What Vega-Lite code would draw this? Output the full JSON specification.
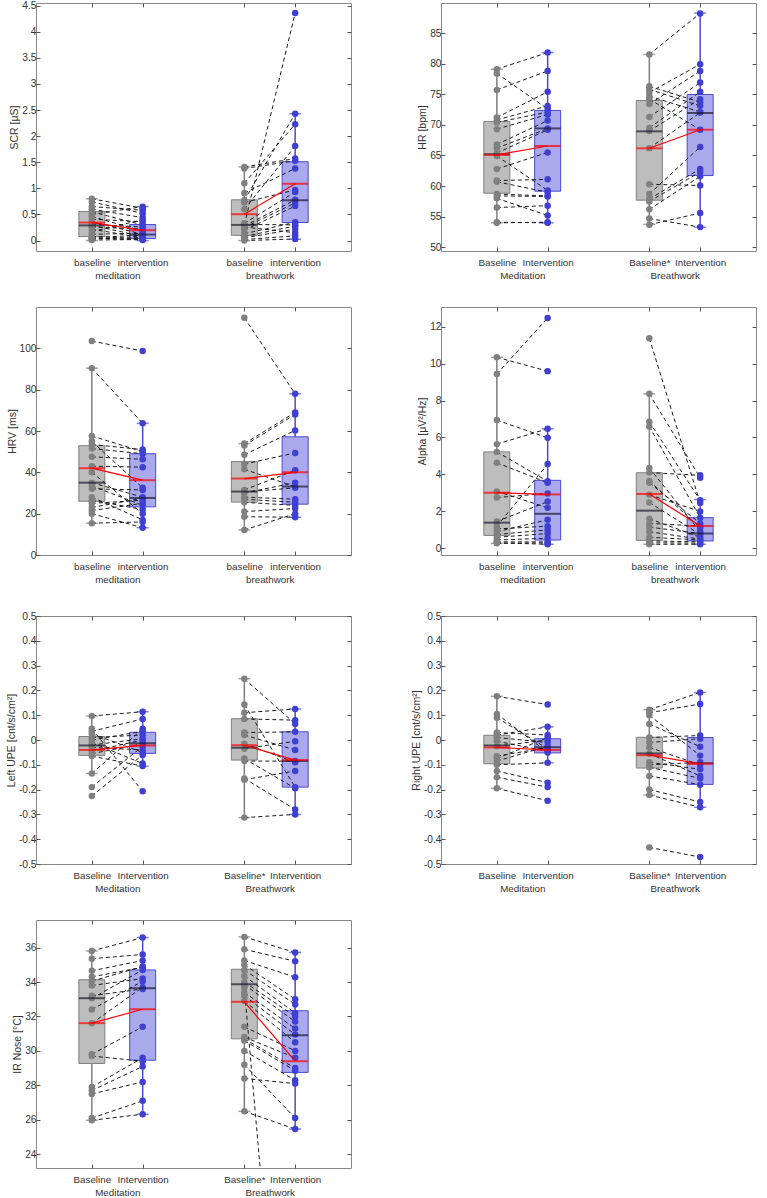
{
  "$schema": "https://vega.github.io/schema/vega-lite/v6.json",
  "background": "white",
  "padding": {"left": 5, "top": 0, "right": 0, "bottom": 0},
  "columns": 2,
  "spacing": {"row": 25, "column": 58},
  "config": {
    "font": "Liberation Sans",
    "view": {"stroke": "#888888", "strokeWidth": 1},
    "axis": {"labelFont": "Liberation Sans", "titleFont": "Liberation Sans", "labelFontSize": 10.2, "titleFontSize": 10.5, "titleFontWeight": "normal", "labelColor": "#333333", "titleColor": "#333333", "domain": false, "grid": false, "tickColor": "#555555", "tickSize": -4, "labelPadding": 4, "titlePadding": 2},
    "axisX": {"labelOverlap": false, "labelFlush": false, "labelLineHeight": 13.5, "labelAngle": 0, "labelPadding": 10, "labelFontSize": 9.8},
    "axisY": {"labelOverlap": false, "tickCount": 30}
  },
  "datasets": {
    "scr_box": [
      {"pos": 1, "cond": "baseline", "grp": "meditation", "lo": 0, "q1": 0.077, "med": 0.29, "mean": 0.345, "q3": 0.556, "hi": 0.8},
      {"pos": 2, "cond": "intervention", "grp": "meditation", "lo": 0, "q1": 0.038, "med": 0.115, "mean": 0.198, "q3": 0.307, "hi": 0.652},
      {"pos": 4, "cond": "baseline", "grp": "breathwork", "lo": 0, "q1": 0.1, "med": 0.3, "mean": 0.505, "q3": 0.78, "hi": 1.41},
      {"pos": 5, "cond": "intervention", "grp": "breathwork", "lo": 0.026, "q1": 0.345, "med": 0.774, "mean": 1.087, "q3": 1.51, "hi": 2.43}
    ],
    "scr_pairs": [
      {"xb": 1, "xi": 2, "b": 0.8, "i": 0.62}, {"xb": 1, "xi": 2, "b": 0.74, "i": 0.52}, {"xb": 1, "xi": 2, "b": 0.65, "i": 0.58}, {"xb": 1, "xi": 2, "b": 0.6, "i": 0.44},
      {"xb": 1, "xi": 2, "b": 0.55, "i": 0.3}, {"xb": 1, "xi": 2, "b": 0.5, "i": 0.65}, {"xb": 1, "xi": 2, "b": 0.46, "i": 0.18}, {"xb": 1, "xi": 2, "b": 0.41, "i": 0.36},
      {"xb": 1, "xi": 2, "b": 0.36, "i": 0.12}, {"xb": 1, "xi": 2, "b": 0.31, "i": 0.26}, {"xb": 1, "xi": 2, "b": 0.29, "i": 0.08}, {"xb": 1, "xi": 2, "b": 0.26, "i": 0.22},
      {"xb": 1, "xi": 2, "b": 0.22, "i": 0.05}, {"xb": 1, "xi": 2, "b": 0.17, "i": 0.4}, {"xb": 1, "xi": 2, "b": 0.12, "i": 0.14}, {"xb": 1, "xi": 2, "b": 0.08, "i": 0.03},
      {"xb": 1, "xi": 2, "b": 0.06, "i": 0.1}, {"xb": 1, "xi": 2, "b": 0.05, "i": 0.01}, {"xb": 1, "xi": 2, "b": 0.03, "i": 0.06}, {"xb": 1, "xi": 2, "b": 0.01, "i": 0.02},
      {"xb": 4, "xi": 5, "b": 0.3, "i": 4.36}, {"xb": 4, "xi": 5, "b": 0.77, "i": 2.43}, {"xb": 4, "xi": 5, "b": 1.1, "i": 2.23}, {"xb": 4, "xi": 5, "b": 0.6, "i": 1.81},
      {"xb": 4, "xi": 5, "b": 1.41, "i": 1.57}, {"xb": 4, "xi": 5, "b": 1.38, "i": 1.53}, {"xb": 4, "xi": 5, "b": 0.91, "i": 1.38}, {"xb": 4, "xi": 5, "b": 0.73, "i": 0.97},
      {"xb": 4, "xi": 5, "b": 0.33, "i": 0.93}, {"xb": 4, "xi": 5, "b": 0.28, "i": 0.78}, {"xb": 4, "xi": 5, "b": 0.25, "i": 0.72}, {"xb": 4, "xi": 5, "b": 0.2, "i": 0.66},
      {"xb": 4, "xi": 5, "b": 0.13, "i": 0.35}, {"xb": 4, "xi": 5, "b": 0.31, "i": 0.3}, {"xb": 4, "xi": 5, "b": 0.08, "i": 0.28}, {"xb": 4, "xi": 5, "b": 0.05, "i": 0.22},
      {"xb": 4, "xi": 5, "b": 0.26, "i": 0.15}, {"xb": 4, "xi": 5, "b": 0.02, "i": 0.09}, {"xb": 4, "xi": 5, "b": 0.0, "i": 0.03}
    ],
    "hr_box": [
      {"pos": 1, "cond": "baseline", "grp": "meditation", "lo": 54.0, "q1": 58.84, "med": 65.2, "mean": 65.1, "q3": 70.56, "hi": 79.08},
      {"pos": 2, "cond": "intervention", "grp": "meditation", "lo": 54.0, "q1": 59.17, "med": 69.42, "mean": 66.55, "q3": 72.35, "hi": 81.8},
      {"pos": 4, "cond": "baseline", "grp": "breathwork", "lo": 53.75, "q1": 57.7, "med": 68.94, "mean": 66.17, "q3": 73.98, "hi": 81.5},
      {"pos": 5, "cond": "intervention", "grp": "breathwork", "lo": 53.26, "q1": 61.72, "med": 71.92, "mean": 69.2, "q3": 74.96, "hi": 88.25}
    ],
    "hr_pairs": [
      {"xb": 1, "xi": 2, "b": 79.1, "i": 81.8}, {"xb": 1, "xi": 2, "b": 78.4, "i": 72.6}, {"xb": 1, "xi": 2, "b": 75.7, "i": 78.8}, {"xb": 1, "xi": 2, "b": 71.2, "i": 75.4},
      {"xb": 1, "xi": 2, "b": 70.8, "i": 73.1}, {"xb": 1, "xi": 2, "b": 70.4, "i": 72.1}, {"xb": 1, "xi": 2, "b": 69.3, "i": 71.7}, {"xb": 1, "xi": 2, "b": 66.8, "i": 70.7},
      {"xb": 1, "xi": 2, "b": 66.2, "i": 69.4}, {"xb": 1, "xi": 2, "b": 65.4, "i": 69.2}, {"xb": 1, "xi": 2, "b": 64.9, "i": 59.3}, {"xb": 1, "xi": 2, "b": 62.8, "i": 65.5},
      {"xb": 1, "xi": 2, "b": 60.9, "i": 61.1}, {"xb": 1, "xi": 2, "b": 60.7, "i": 59.0}, {"xb": 1, "xi": 2, "b": 58.7, "i": 58.4}, {"xb": 1, "xi": 2, "b": 58.4, "i": 58.3},
      {"xb": 1, "xi": 2, "b": 58.0, "i": 55.2}, {"xb": 1, "xi": 2, "b": 56.5, "i": 56.8}, {"xb": 1, "xi": 2, "b": 54.1, "i": 54.0}, {"xb": 1, "xi": 2, "b": 54.0, "i": 54.1},
      {"xb": 4, "xi": 5, "b": 81.5, "i": 88.2}, {"xb": 4, "xi": 5, "b": 76.3, "i": 73.7}, {"xb": 4, "xi": 5, "b": 75.8, "i": 73.1}, {"xb": 4, "xi": 5, "b": 75.3, "i": 79.9},
      {"xb": 4, "xi": 5, "b": 74.7, "i": 72.1}, {"xb": 4, "xi": 5, "b": 74.2, "i": 69.2}, {"xb": 4, "xi": 5, "b": 73.4, "i": 78.8}, {"xb": 4, "xi": 5, "b": 71.3, "i": 76.9},
      {"xb": 4, "xi": 5, "b": 69.5, "i": 75.4}, {"xb": 4, "xi": 5, "b": 69.0, "i": 74.2}, {"xb": 4, "xi": 5, "b": 66.2, "i": 72.0}, {"xb": 4, "xi": 5, "b": 60.3, "i": 60.1},
      {"xb": 4, "xi": 5, "b": 58.7, "i": 66.4}, {"xb": 4, "xi": 5, "b": 57.9, "i": 62.8}, {"xb": 4, "xi": 5, "b": 57.5, "i": 62.3}, {"xb": 4, "xi": 5, "b": 56.2, "i": 61.6},
      {"xb": 4, "xi": 5, "b": 54.7, "i": 53.3}, {"xb": 4, "xi": 5, "b": 53.7, "i": 55.6}
    ],
    "hrv_box": [
      {"pos": 1, "cond": "baseline", "grp": "meditation", "lo": 15.4, "q1": 26.0, "med": 35.0, "mean": 42.0, "q3": 52.9, "hi": 90.4},
      {"pos": 2, "cond": "intervention", "grp": "meditation", "lo": 13.2, "q1": 23.3, "med": 27.6, "mean": 36.2, "q3": 49.0, "hi": 63.7},
      {"pos": 4, "cond": "baseline", "grp": "breathwork", "lo": 12.1, "q1": 25.6, "med": 30.7, "mean": 37.0, "q3": 45.2, "hi": 53.9},
      {"pos": 5, "cond": "intervention", "grp": "breathwork", "lo": 18.3, "q1": 24.6, "med": 33.1, "mean": 40.0, "q3": 57.2, "hi": 78.0}
    ],
    "hrv_pairs": [
      {"xb": 1, "xi": 2, "b": 103.5, "i": 98.7}, {"xb": 1, "xi": 2, "b": 90.4, "i": 63.7}, {"xb": 1, "xi": 2, "b": 57.6, "i": 50}, {"xb": 1, "xi": 2, "b": 55, "i": 32.5},
      {"xb": 1, "xi": 2, "b": 53.5, "i": 51}, {"xb": 1, "xi": 2, "b": 51.5, "i": 49}, {"xb": 1, "xi": 2, "b": 47.5, "i": 46.3}, {"xb": 1, "xi": 2, "b": 43, "i": 42.5},
      {"xb": 1, "xi": 2, "b": 40, "i": 20}, {"xb": 1, "xi": 2, "b": 35, "i": 28}, {"xb": 1, "xi": 2, "b": 33.5, "i": 24}, {"xb": 1, "xi": 2, "b": 32, "i": 31.5},
      {"xb": 1, "xi": 2, "b": 28, "i": 17}, {"xb": 1, "xi": 2, "b": 26.5, "i": 22}, {"xb": 1, "xi": 2, "b": 25, "i": 26.5}, {"xb": 1, "xi": 2, "b": 23, "i": 27.5},
      {"xb": 1, "xi": 2, "b": 21.5, "i": 25}, {"xb": 1, "xi": 2, "b": 20, "i": 13.2}, {"xb": 1, "xi": 2, "b": 15.4, "i": 16},
      {"xb": 4, "xi": 5, "b": 114.8, "i": 78}, {"xb": 4, "xi": 5, "b": 53.9, "i": 69}, {"xb": 4, "xi": 5, "b": 53, "i": 68}, {"xb": 4, "xi": 5, "b": 48.5, "i": 60.3},
      {"xb": 4, "xi": 5, "b": 44, "i": 49.4}, {"xb": 4, "xi": 5, "b": 41.5, "i": 33}, {"xb": 4, "xi": 5, "b": 31.5, "i": 41}, {"xb": 4, "xi": 5, "b": 30, "i": 35},
      {"xb": 4, "xi": 5, "b": 30.5, "i": 32.5}, {"xb": 4, "xi": 5, "b": 28, "i": 27}, {"xb": 4, "xi": 5, "b": 27, "i": 25.5}, {"xb": 4, "xi": 5, "b": 25.5, "i": 24},
      {"xb": 4, "xi": 5, "b": 21, "i": 22.5}, {"xb": 4, "xi": 5, "b": 18.5, "i": 18.3}, {"xb": 4, "xi": 5, "b": 12.1, "i": 20}
    ],
    "alpha_box": [
      {"pos": 1, "cond": "baseline", "grp": "meditation", "lo": 0.27, "q1": 0.7, "med": 1.39, "mean": 3.01, "q3": 5.22, "hi": 10.34},
      {"pos": 2, "cond": "intervention", "grp": "meditation", "lo": 0.22, "q1": 0.45, "med": 1.87, "mean": 2.92, "q3": 3.68, "hi": 6.47},
      {"pos": 4, "cond": "baseline", "grp": "breathwork", "lo": 0.22, "q1": 0.43, "med": 2.04, "mean": 2.94, "q3": 4.09, "hi": 8.36},
      {"pos": 5, "cond": "intervention", "grp": "breathwork", "lo": 0.22, "q1": 0.4, "med": 0.81, "mean": 1.21, "q3": 1.66, "hi": 2.65}
    ],
    "alpha_pairs": [
      {"xb": 1, "xi": 2, "b": 9.43, "i": 12.47}, {"xb": 1, "xi": 2, "b": 10.34, "i": 9.59}, {"xb": 1, "xi": 2, "b": 6.94, "i": 5.98}, {"xb": 1, "xi": 2, "b": 5.64, "i": 6.47},
      {"xb": 1, "xi": 2, "b": 5.22, "i": 3.63}, {"xb": 1, "xi": 2, "b": 4.63, "i": 3.55}, {"xb": 1, "xi": 2, "b": 3.08, "i": 2.2}, {"xb": 1, "xi": 2, "b": 2.75, "i": 2.97},
      {"xb": 1, "xi": 2, "b": 1.45, "i": 2.53}, {"xb": 1, "xi": 2, "b": 1.2, "i": 4.56}, {"xb": 1, "xi": 2, "b": 1.05, "i": 1.2}, {"xb": 1, "xi": 2, "b": 0.9, "i": 1.55},
      {"xb": 1, "xi": 2, "b": 0.75, "i": 1.0}, {"xb": 1, "xi": 2, "b": 0.6, "i": 0.8}, {"xb": 1, "xi": 2, "b": 0.45, "i": 0.55}, {"xb": 1, "xi": 2, "b": 0.35, "i": 0.35},
      {"xb": 1, "xi": 2, "b": 0.3, "i": 0.22}, {"xb": 1, "xi": 2, "b": 0.27, "i": 0.3},
      {"xb": 4, "xi": 5, "b": 11.37, "i": 2.45}, {"xb": 4, "xi": 5, "b": 8.36, "i": 3.82}, {"xb": 4, "xi": 5, "b": 6.85, "i": 2.6}, {"xb": 4, "xi": 5, "b": 6.6, "i": 1.65},
      {"xb": 4, "xi": 5, "b": 4.35, "i": 0.9}, {"xb": 4, "xi": 5, "b": 4.1, "i": 3.95}, {"xb": 4, "xi": 5, "b": 3.65, "i": 1.1}, {"xb": 4, "xi": 5, "b": 3.55, "i": 1.35},
      {"xb": 4, "xi": 5, "b": 2.9, "i": 2.0}, {"xb": 4, "xi": 5, "b": 2.48, "i": 0.75}, {"xb": 4, "xi": 5, "b": 1.6, "i": 0.6}, {"xb": 4, "xi": 5, "b": 1.35, "i": 1.2},
      {"xb": 4, "xi": 5, "b": 1.15, "i": 0.8}, {"xb": 4, "xi": 5, "b": 0.9, "i": 0.5}, {"xb": 4, "xi": 5, "b": 0.6, "i": 0.45}, {"xb": 4, "xi": 5, "b": 0.4, "i": 0.35},
      {"xb": 4, "xi": 5, "b": 0.3, "i": 0.28}, {"xb": 4, "xi": 5, "b": 0.22, "i": 0.22}
    ],
    "lupe_box": [
      {"pos": 1, "cond": "baseline", "grp": "meditation", "lo": -0.135, "q1": -0.062, "med": -0.022, "mean": -0.04, "q3": 0.014, "hi": 0.097},
      {"pos": 2, "cond": "intervention", "grp": "meditation", "lo": -0.105, "q1": -0.054, "med": -0.013, "mean": -0.022, "q3": 0.031, "hi": 0.114},
      {"pos": 4, "cond": "baseline", "grp": "breathwork", "lo": -0.313, "q1": -0.081, "med": -0.031, "mean": -0.021, "q3": 0.086, "hi": 0.247},
      {"pos": 5, "cond": "intervention", "grp": "breathwork", "lo": -0.3, "q1": -0.19, "med": -0.085, "mean": -0.081, "q3": 0.033, "hi": 0.125}
    ],
    "lupe_pairs": [
      {"xb": 1, "xi": 2, "b": 0.097, "i": 0.114}, {"xb": 1, "xi": 2, "b": 0.045, "i": -0.207}, {"xb": 1, "xi": 2, "b": 0.035, "i": 0.085}, {"xb": 1, "xi": 2, "b": 0.025, "i": -0.05},
      {"xb": 1, "xi": 2, "b": 0.01, "i": 0.02}, {"xb": 1, "xi": 2, "b": 0.0, "i": 0.035}, {"xb": 1, "xi": 2, "b": -0.01, "i": -0.095}, {"xb": 1, "xi": 2, "b": -0.02, "i": 0.005},
      {"xb": 1, "xi": 2, "b": -0.03, "i": -0.04}, {"xb": 1, "xi": 2, "b": -0.045, "i": 0.0}, {"xb": 1, "xi": 2, "b": -0.055, "i": -0.015}, {"xb": 1, "xi": 2, "b": -0.065, "i": -0.105},
      {"xb": 1, "xi": 2, "b": -0.135, "i": 0.045}, {"xb": 1, "xi": 2, "b": -0.19, "i": -0.025}, {"xb": 1, "xi": 2, "b": -0.226, "i": -0.06},
      {"xb": 4, "xi": 5, "b": 0.247, "i": 0.065}, {"xb": 4, "xi": 5, "b": 0.143, "i": -0.19}, {"xb": 4, "xi": 5, "b": 0.11, "i": 0.125}, {"xb": 4, "xi": 5, "b": 0.085, "i": 0.08},
      {"xb": 4, "xi": 5, "b": 0.03, "i": 0.033}, {"xb": 4, "xi": 5, "b": 0.02, "i": -0.04}, {"xb": 4, "xi": 5, "b": -0.015, "i": -0.09}, {"xb": 4, "xi": 5, "b": -0.035, "i": -0.005},
      {"xb": 4, "xi": 5, "b": -0.075, "i": -0.195}, {"xb": 4, "xi": 5, "b": -0.085, "i": -0.085}, {"xb": 4, "xi": 5, "b": -0.155, "i": -0.28}, {"xb": 4, "xi": 5, "b": -0.16, "i": -0.125},
      {"xb": 4, "xi": 5, "b": -0.313, "i": -0.3}
    ],
    "rupe_box": [
      {"pos": 1, "cond": "baseline", "grp": "meditation", "lo": -0.195, "q1": -0.096, "med": -0.022, "mean": -0.03, "q3": 0.019, "hi": 0.176},
      {"pos": 2, "cond": "intervention", "grp": "meditation", "lo": -0.092, "q1": -0.052, "med": -0.029, "mean": -0.04, "q3": 0.005, "hi": 0.053},
      {"pos": 4, "cond": "baseline", "grp": "breathwork", "lo": -0.222, "q1": -0.113, "med": -0.054, "mean": -0.061, "q3": 0.011, "hi": 0.122},
      {"pos": 5, "cond": "intervention", "grp": "breathwork", "lo": -0.271, "q1": -0.179, "med": -0.094, "mean": -0.096, "q3": 0.01, "hi": 0.192}
    ],
    "rupe_pairs": [
      {"xb": 1, "xi": 2, "b": 0.176, "i": 0.143}, {"xb": 1, "xi": 2, "b": 0.105, "i": -0.05}, {"xb": 1, "xi": 2, "b": 0.09, "i": -0.035}, {"xb": 1, "xi": 2, "b": 0.03, "i": 0.02},
      {"xb": 1, "xi": 2, "b": 0.02, "i": 0.053}, {"xb": 1, "xi": 2, "b": 0.01, "i": -0.01}, {"xb": 1, "xi": 2, "b": -0.005, "i": -0.045}, {"xb": 1, "xi": 2, "b": -0.025, "i": 0.0},
      {"xb": 1, "xi": 2, "b": -0.065, "i": -0.03}, {"xb": 1, "xi": 2, "b": -0.075, "i": 0.01}, {"xb": 1, "xi": 2, "b": -0.085, "i": -0.025}, {"xb": 1, "xi": 2, "b": -0.1, "i": -0.092},
      {"xb": 1, "xi": 2, "b": -0.125, "i": -0.172}, {"xb": 1, "xi": 2, "b": -0.15, "i": -0.19}, {"xb": 1, "xi": 2, "b": -0.195, "i": -0.245},
      {"xb": 4, "xi": 5, "b": 0.122, "i": 0.192}, {"xb": 4, "xi": 5, "b": 0.11, "i": 0.145}, {"xb": 4, "xi": 5, "b": 0.1, "i": -0.063}, {"xb": 4, "xi": 5, "b": 0.065, "i": -0.027},
      {"xb": 4, "xi": 5, "b": 0.01, "i": 0.018}, {"xb": 4, "xi": 5, "b": -0.01, "i": 0.005}, {"xb": 4, "xi": 5, "b": -0.03, "i": -0.1}, {"xb": 4, "xi": 5, "b": -0.055, "i": -0.145},
      {"xb": 4, "xi": 5, "b": -0.09, "i": -0.118}, {"xb": 4, "xi": 5, "b": -0.1, "i": -0.09}, {"xb": 4, "xi": 5, "b": -0.11, "i": -0.155}, {"xb": 4, "xi": 5, "b": -0.145, "i": -0.18},
      {"xb": 4, "xi": 5, "b": -0.2, "i": -0.25}, {"xb": 4, "xi": 5, "b": -0.222, "i": -0.271}, {"xb": 4, "xi": 5, "b": -0.433, "i": -0.472}
    ],
    "ir_box": [
      {"pos": 1, "cond": "baseline", "grp": "meditation", "lo": 25.97, "q1": 29.27, "med": 33.06, "mean": 31.61, "q3": 34.13, "hi": 35.8},
      {"pos": 2, "cond": "intervention", "grp": "meditation", "lo": 26.32, "q1": 29.46, "med": 33.64, "mean": 32.42, "q3": 34.7, "hi": 36.58},
      {"pos": 4, "cond": "baseline", "grp": "breathwork", "lo": 26.49, "q1": 30.7, "med": 33.87, "mean": 32.85, "q3": 34.74, "hi": 36.62},
      {"pos": 5, "cond": "intervention", "grp": "breathwork", "lo": 25.46, "q1": 28.75, "med": 30.91, "mean": 29.4, "q3": 32.33, "hi": 35.71}
    ],
    "ir_pairs": [
      {"xb": 1, "xi": 2, "b": 35.8, "i": 36.58}, {"xb": 1, "xi": 2, "b": 35.35, "i": 35.6}, {"xb": 1, "xi": 2, "b": 34.65, "i": 35.25}, {"xb": 1, "xi": 2, "b": 34.3, "i": 34.85},
      {"xb": 1, "xi": 2, "b": 34.05, "i": 34.9}, {"xb": 1, "xi": 2, "b": 33.8, "i": 34.2}, {"xb": 1, "xi": 2, "b": 33.2, "i": 33.6}, {"xb": 1, "xi": 2, "b": 33.05, "i": 34.7},
      {"xb": 1, "xi": 2, "b": 32.4, "i": 34.05}, {"xb": 1, "xi": 2, "b": 31.6, "i": 33.7}, {"xb": 1, "xi": 2, "b": 29.8, "i": 31.4}, {"xb": 1, "xi": 2, "b": 29.7, "i": 29.4},
      {"xb": 1, "xi": 2, "b": 27.9, "i": 29.6}, {"xb": 1, "xi": 2, "b": 27.7, "i": 29.1}, {"xb": 1, "xi": 2, "b": 27.5, "i": 28.2}, {"xb": 1, "xi": 2, "b": 26.1, "i": 27.1},
      {"xb": 1, "xi": 2, "b": 25.97, "i": 26.32},
      {"xb": 4, "xi": 5, "b": 36.62, "i": 35.71}, {"xb": 4, "xi": 5, "b": 35.9, "i": 35.2}, {"xb": 4, "xi": 5, "b": 35.25, "i": 34.28}, {"xb": 4, "xi": 5, "b": 35.0, "i": 33.0},
      {"xb": 4, "xi": 5, "b": 34.7, "i": 32.7}, {"xb": 4, "xi": 5, "b": 34.35, "i": 32.2}, {"xb": 4, "xi": 5, "b": 34.0, "i": 32.0}, {"xb": 4, "xi": 5, "b": 33.85, "i": 31.7},
      {"xb": 4, "xi": 5, "b": 33.66, "i": 0}, {"xb": 4, "xi": 5, "b": 33.4, "i": 31.3}, {"xb": 4, "xi": 5, "b": 33.2, "i": 30.95}, {"xb": 4, "xi": 5, "b": 32.9, "i": 30.5},
      {"xb": 4, "xi": 5, "b": 31.4, "i": 30.0}, {"xb": 4, "xi": 5, "b": 30.8, "i": 29.6}, {"xb": 4, "xi": 5, "b": 30.7, "i": 29.0}, {"xb": 4, "xi": 5, "b": 30.6, "i": 28.85},
      {"xb": 4, "xi": 5, "b": 30.0, "i": 28.3}, {"xb": 4, "xi": 5, "b": 29.2, "i": 26.1}, {"xb": 4, "xi": 5, "b": 28.4, "i": 28.1}, {"xb": 4, "xi": 5, "b": 26.49, "i": 25.46}
    ]
  },
  "concat": [
    {
      "width": 315, "height": 248,
      "resolve": {"axis": {"x": "independent", "y": "independent"}},
      "layer": [
        {"layer": [
        {"data": {"name": "scr_box"}, "mark": {"type": "bar", "width": 26, "strokeWidth": 1},
         "encoding": {
           "x": {"field": "pos", "type": "quantitative", "scale": {"domain": [0, 6], "nice": false, "zero": false},
                 "axis": {"title": null, "values": [1, 1.5, 2, 4, 4.5, 5], "tickOpacity": {"condition": {"test": "datum.value == 1.5 || datum.value == 4.5", "value": 0}, "value": 1},
                          "labelExpr": "datum.value == 1 || datum.value == 4 ? 'baseline' : datum.value == 2 || datum.value == 5 ? 'intervention' : datum.value == 1.5 ? ['', 'meditation'] : ['', 'breathwork']"}},
           "y": {"field": "q1", "type": "quantitative", "scale": {"domain": [-0.2, 4.55], "nice": false, "zero": false},
                 "axis": {"title": "SCR [μS]", "values": [0, 0.5, 1, 1.5, 2, 2.5, 3, 3.5, 4, 4.5], "tickCount": 30, "format": "~r"}},
           "y2": {"field": "q3"},
           "fill": {"field": "cond", "type": "nominal", "scale": {"domain": ["baseline", "intervention"], "range": ["#bdbdbd", "#a9a9ec"]}, "legend": null},
           "stroke": {"field": "cond", "type": "nominal", "scale": {"domain": ["baseline", "intervention"], "range": ["#7f7f7f", "#4a4ad6"]}, "legend": null}
         }},
        {"data": {"name": "scr_box"}, "mark": {"type": "rule", "strokeWidth": 1.5},
         "encoding": {"x": {"field": "pos", "type": "quantitative"}, "y": {"field": "lo", "type": "quantitative"}, "y2": {"field": "q1"}, "stroke": {"field": "cond", "type": "nominal", "legend": null}}},
        {"data": {"name": "scr_box"}, "mark": {"type": "rule", "strokeWidth": 1.5},
         "encoding": {"x": {"field": "pos", "type": "quantitative"}, "y": {"field": "q3", "type": "quantitative"}, "y2": {"field": "hi"}, "stroke": {"field": "cond", "type": "nominal", "legend": null}}},
        {"data": {"name": "scr_box"}, "mark": {"type": "tick", "orient": "horizontal", "size": 12, "thickness": 1.5},
         "encoding": {"x": {"field": "pos", "type": "quantitative"}, "y": {"field": "lo", "type": "quantitative"}, "color": {"field": "cond", "type": "nominal", "scale": {"domain": ["baseline", "intervention"], "range": ["#7f7f7f", "#4a4ad6"]}, "legend": null}}},
        {"data": {"name": "scr_box"}, "mark": {"type": "tick", "orient": "horizontal", "size": 12, "thickness": 1.5},
         "encoding": {"x": {"field": "pos", "type": "quantitative"}, "y": {"field": "hi", "type": "quantitative"}, "color": {"field": "cond", "type": "nominal", "legend": null}}},
        {"data": {"name": "scr_pairs"}, "mark": {"type": "rule", "strokeDash": [4, 3], "strokeWidth": 1, "color": "#1a1a1a", "clip": true},
         "encoding": {"x": {"field": "xb", "type": "quantitative"}, "x2": {"field": "xi"}, "y": {"field": "b", "type": "quantitative"}, "y2": {"field": "i"}}},
        {"data": {"name": "scr_pairs"}, "mark": {"type": "circle", "size": 42, "opacity": 1, "color": "#808080", "clip": true},
         "encoding": {"x": {"field": "xb", "type": "quantitative"}, "y": {"field": "b", "type": "quantitative"}}},
        {"data": {"name": "scr_pairs"}, "mark": {"type": "circle", "size": 42, "opacity": 1, "color": "#3f3fd2", "clip": true},
         "encoding": {"x": {"field": "xi", "type": "quantitative"}, "y": {"field": "i", "type": "quantitative"}}},
        {"data": {"name": "scr_box"}, "mark": {"type": "tick", "orient": "horizontal", "size": 26, "thickness": 2, "color": "#1b1b2f"},
         "encoding": {"x": {"field": "pos", "type": "quantitative"}, "y": {"field": "med", "type": "quantitative"}}},
        {"data": {"name": "scr_box"}, "mark": {"type": "tick", "orient": "horizontal", "size": 26, "thickness": 2, "color": "#ff0000"},
         "encoding": {"x": {"field": "pos", "type": "quantitative"}, "y": {"field": "mean", "type": "quantitative"}}},
        {"data": {"name": "scr_box"}, "mark": {"type": "line", "color": "#ff0000", "strokeWidth": 1.2},
         "encoding": {"x": {"field": "pos", "type": "quantitative"}, "y": {"field": "mean", "type": "quantitative"}, "detail": {"field": "grp", "type": "nominal"}}}
        ]},
        {"data": {"name": "scr_box"}, "mark": {"type": "point", "opacity": 0},
         "encoding": {"x": {"field": "pos", "type": "quantitative", "axis": {"orient": "top", "labels": false, "title": null, "values": [1, 2, 4, 5]}},
                      "y": {"field": "mean", "type": "quantitative", "axis": {"orient": "right", "labels": false, "title": null, "values": [0, 0.5, 1, 1.5, 2, 2.5, 3, 3.5, 4, 4.5], "tickCount": 30}}}}
      ]
    },
    {
      "width": 315, "height": 248,
      "resolve": {"axis": {"x": "independent", "y": "independent"}},
      "layer": [
        {"layer": [
        {"data": {"name": "hr_box"}, "mark": {"type": "bar", "width": 26, "strokeWidth": 1},
         "encoding": {
           "x": {"field": "pos", "type": "quantitative", "scale": {"domain": [0, 6], "nice": false, "zero": false},
                 "axis": {"title": null, "values": [1, 1.5, 2, 4, 4.5, 5], "tickOpacity": {"condition": {"test": "datum.value == 1.5 || datum.value == 4.5", "value": 0}, "value": 1},
                          "labelExpr": "datum.value == 1 ? 'Baseline' : datum.value == 4 ? 'Baseline*' : datum.value == 2 || datum.value == 5 ? 'Intervention' : datum.value == 1.5 ? ['', 'Meditation'] : ['', 'Breathwork']"}},
           "y": {"field": "q1", "type": "quantitative", "scale": {"domain": [49.4, 89.9], "nice": false, "zero": false},
                 "axis": {"title": "HR [bpm]", "values": [50, 55, 60, 65, 70, 75, 80, 85], "tickCount": 30, "format": "~r"}},
           "y2": {"field": "q3"},
           "fill": {"field": "cond", "type": "nominal", "scale": {"domain": ["baseline", "intervention"], "range": ["#bdbdbd", "#a9a9ec"]}, "legend": null},
           "stroke": {"field": "cond", "type": "nominal", "scale": {"domain": ["baseline", "intervention"], "range": ["#7f7f7f", "#4a4ad6"]}, "legend": null}
         }},
        {"data": {"name": "hr_box"}, "mark": {"type": "rule", "strokeWidth": 1.5},
         "encoding": {"x": {"field": "pos", "type": "quantitative"}, "y": {"field": "lo", "type": "quantitative"}, "y2": {"field": "q1"}, "stroke": {"field": "cond", "type": "nominal", "legend": null}}},
        {"data": {"name": "hr_box"}, "mark": {"type": "rule", "strokeWidth": 1.5},
         "encoding": {"x": {"field": "pos", "type": "quantitative"}, "y": {"field": "q3", "type": "quantitative"}, "y2": {"field": "hi"}, "stroke": {"field": "cond", "type": "nominal", "legend": null}}},
        {"data": {"name": "hr_box"}, "mark": {"type": "tick", "orient": "horizontal", "size": 12, "thickness": 1.5},
         "encoding": {"x": {"field": "pos", "type": "quantitative"}, "y": {"field": "lo", "type": "quantitative"}, "color": {"field": "cond", "type": "nominal", "scale": {"domain": ["baseline", "intervention"], "range": ["#7f7f7f", "#4a4ad6"]}, "legend": null}}},
        {"data": {"name": "hr_box"}, "mark": {"type": "tick", "orient": "horizontal", "size": 12, "thickness": 1.5},
         "encoding": {"x": {"field": "pos", "type": "quantitative"}, "y": {"field": "hi", "type": "quantitative"}, "color": {"field": "cond", "type": "nominal", "legend": null}}},
        {"data": {"name": "hr_pairs"}, "mark": {"type": "rule", "strokeDash": [4, 3], "strokeWidth": 1, "color": "#1a1a1a", "clip": true},
         "encoding": {"x": {"field": "xb", "type": "quantitative"}, "x2": {"field": "xi"}, "y": {"field": "b", "type": "quantitative"}, "y2": {"field": "i"}}},
        {"data": {"name": "hr_pairs"}, "mark": {"type": "circle", "size": 42, "opacity": 1, "color": "#808080", "clip": true},
         "encoding": {"x": {"field": "xb", "type": "quantitative"}, "y": {"field": "b", "type": "quantitative"}}},
        {"data": {"name": "hr_pairs"}, "mark": {"type": "circle", "size": 42, "opacity": 1, "color": "#3f3fd2", "clip": true},
         "encoding": {"x": {"field": "xi", "type": "quantitative"}, "y": {"field": "i", "type": "quantitative"}}},
        {"data": {"name": "hr_box"}, "mark": {"type": "tick", "orient": "horizontal", "size": 26, "thickness": 2, "color": "#1b1b2f"},
         "encoding": {"x": {"field": "pos", "type": "quantitative"}, "y": {"field": "med", "type": "quantitative"}}},
        {"data": {"name": "hr_box"}, "mark": {"type": "tick", "orient": "horizontal", "size": 26, "thickness": 2, "color": "#ff0000"},
         "encoding": {"x": {"field": "pos", "type": "quantitative"}, "y": {"field": "mean", "type": "quantitative"}}},
        {"data": {"name": "hr_box"}, "mark": {"type": "line", "color": "#ff0000", "strokeWidth": 1.2},
         "encoding": {"x": {"field": "pos", "type": "quantitative"}, "y": {"field": "mean", "type": "quantitative"}, "detail": {"field": "grp", "type": "nominal"}}}
        ]},
        {"data": {"name": "hr_box"}, "mark": {"type": "point", "opacity": 0},
         "encoding": {"x": {"field": "pos", "type": "quantitative", "axis": {"orient": "top", "labels": false, "title": null, "values": [1, 2, 4, 5]}},
                      "y": {"field": "mean", "type": "quantitative", "axis": {"orient": "right", "labels": false, "title": null, "values": [50, 55, 60, 65, 70, 75, 80, 85], "tickCount": 30}}}}
      ]
    },
    {
      "width": 315, "height": 248,
      "resolve": {"axis": {"x": "independent", "y": "independent"}},
      "layer": [
        {"layer": [
        {"data": {"name": "hrv_box"}, "mark": {"type": "bar", "width": 26, "strokeWidth": 1},
         "encoding": {
           "x": {"field": "pos", "type": "quantitative", "scale": {"domain": [0, 6], "nice": false, "zero": false},
                 "axis": {"title": null, "values": [1, 1.5, 2, 4, 4.5, 5], "tickOpacity": {"condition": {"test": "datum.value == 1.5 || datum.value == 4.5", "value": 0}, "value": 1},
                          "labelExpr": "datum.value == 1 || datum.value == 4 ? 'baseline' : datum.value == 2 || datum.value == 5 ? 'intervention' : datum.value == 1.5 ? ['', 'meditation'] : ['', 'breathwork']"}},
           "y": {"field": "q1", "type": "quantitative", "scale": {"domain": [0, 120], "nice": false, "zero": false},
                 "axis": {"title": "HRV [ms]", "values": [0, 20, 40, 60, 80, 100], "tickCount": 30, "format": "~r"}},
           "y2": {"field": "q3"},
           "fill": {"field": "cond", "type": "nominal", "scale": {"domain": ["baseline", "intervention"], "range": ["#bdbdbd", "#a9a9ec"]}, "legend": null},
           "stroke": {"field": "cond", "type": "nominal", "scale": {"domain": ["baseline", "intervention"], "range": ["#7f7f7f", "#4a4ad6"]}, "legend": null}
         }},
        {"data": {"name": "hrv_box"}, "mark": {"type": "rule", "strokeWidth": 1.5},
         "encoding": {"x": {"field": "pos", "type": "quantitative"}, "y": {"field": "lo", "type": "quantitative"}, "y2": {"field": "q1"}, "stroke": {"field": "cond", "type": "nominal", "legend": null}}},
        {"data": {"name": "hrv_box"}, "mark": {"type": "rule", "strokeWidth": 1.5},
         "encoding": {"x": {"field": "pos", "type": "quantitative"}, "y": {"field": "q3", "type": "quantitative"}, "y2": {"field": "hi"}, "stroke": {"field": "cond", "type": "nominal", "legend": null}}},
        {"data": {"name": "hrv_box"}, "mark": {"type": "tick", "orient": "horizontal", "size": 12, "thickness": 1.5},
         "encoding": {"x": {"field": "pos", "type": "quantitative"}, "y": {"field": "lo", "type": "quantitative"}, "color": {"field": "cond", "type": "nominal", "scale": {"domain": ["baseline", "intervention"], "range": ["#7f7f7f", "#4a4ad6"]}, "legend": null}}},
        {"data": {"name": "hrv_box"}, "mark": {"type": "tick", "orient": "horizontal", "size": 12, "thickness": 1.5},
         "encoding": {"x": {"field": "pos", "type": "quantitative"}, "y": {"field": "hi", "type": "quantitative"}, "color": {"field": "cond", "type": "nominal", "legend": null}}},
        {"data": {"name": "hrv_pairs"}, "mark": {"type": "rule", "strokeDash": [4, 3], "strokeWidth": 1, "color": "#1a1a1a", "clip": true},
         "encoding": {"x": {"field": "xb", "type": "quantitative"}, "x2": {"field": "xi"}, "y": {"field": "b", "type": "quantitative"}, "y2": {"field": "i"}}},
        {"data": {"name": "hrv_pairs"}, "mark": {"type": "circle", "size": 42, "opacity": 1, "color": "#808080", "clip": true},
         "encoding": {"x": {"field": "xb", "type": "quantitative"}, "y": {"field": "b", "type": "quantitative"}}},
        {"data": {"name": "hrv_pairs"}, "mark": {"type": "circle", "size": 42, "opacity": 1, "color": "#3f3fd2", "clip": true},
         "encoding": {"x": {"field": "xi", "type": "quantitative"}, "y": {"field": "i", "type": "quantitative"}}},
        {"data": {"name": "hrv_box"}, "mark": {"type": "tick", "orient": "horizontal", "size": 26, "thickness": 2, "color": "#1b1b2f"},
         "encoding": {"x": {"field": "pos", "type": "quantitative"}, "y": {"field": "med", "type": "quantitative"}}},
        {"data": {"name": "hrv_box"}, "mark": {"type": "tick", "orient": "horizontal", "size": 26, "thickness": 2, "color": "#ff0000"},
         "encoding": {"x": {"field": "pos", "type": "quantitative"}, "y": {"field": "mean", "type": "quantitative"}}},
        {"data": {"name": "hrv_box"}, "mark": {"type": "line", "color": "#ff0000", "strokeWidth": 1.2},
         "encoding": {"x": {"field": "pos", "type": "quantitative"}, "y": {"field": "mean", "type": "quantitative"}, "detail": {"field": "grp", "type": "nominal"}}}
        ]},
        {"data": {"name": "hrv_box"}, "mark": {"type": "point", "opacity": 0},
         "encoding": {"x": {"field": "pos", "type": "quantitative", "axis": {"orient": "top", "labels": false, "title": null, "values": [1, 2, 4, 5]}},
                      "y": {"field": "mean", "type": "quantitative", "axis": {"orient": "right", "labels": false, "title": null, "values": [0, 20, 40, 60, 80, 100], "tickCount": 30}}}}
      ]
    },
    {
      "width": 315, "height": 248,
      "resolve": {"axis": {"x": "independent", "y": "independent"}},
      "layer": [
        {"layer": [
        {"data": {"name": "alpha_box"}, "mark": {"type": "bar", "width": 26, "strokeWidth": 1},
         "encoding": {
           "x": {"field": "pos", "type": "quantitative", "scale": {"domain": [0, 6], "nice": false, "zero": false},
                 "axis": {"title": null, "values": [1, 1.5, 2, 4, 4.5, 5], "tickOpacity": {"condition": {"test": "datum.value == 1.5 || datum.value == 4.5", "value": 0}, "value": 1},
                          "labelExpr": "datum.value == 1 || datum.value == 4 ? 'baseline' : datum.value == 2 || datum.value == 5 ? 'intervention' : datum.value == 1.5 ? ['', 'meditation'] : ['', 'breathwork']"}},
           "y": {"field": "q1", "type": "quantitative", "scale": {"domain": [-0.36, 13.06], "nice": false, "zero": false},
                 "axis": {"title": "Alpha [μV²/Hz]", "values": [0, 2, 4, 6, 8, 10, 12], "tickCount": 30, "format": "~r"}},
           "y2": {"field": "q3"},
           "fill": {"field": "cond", "type": "nominal", "scale": {"domain": ["baseline", "intervention"], "range": ["#bdbdbd", "#a9a9ec"]}, "legend": null},
           "stroke": {"field": "cond", "type": "nominal", "scale": {"domain": ["baseline", "intervention"], "range": ["#7f7f7f", "#4a4ad6"]}, "legend": null}
         }},
        {"data": {"name": "alpha_box"}, "mark": {"type": "rule", "strokeWidth": 1.5},
         "encoding": {"x": {"field": "pos", "type": "quantitative"}, "y": {"field": "lo", "type": "quantitative"}, "y2": {"field": "q1"}, "stroke": {"field": "cond", "type": "nominal", "legend": null}}},
        {"data": {"name": "alpha_box"}, "mark": {"type": "rule", "strokeWidth": 1.5},
         "encoding": {"x": {"field": "pos", "type": "quantitative"}, "y": {"field": "q3", "type": "quantitative"}, "y2": {"field": "hi"}, "stroke": {"field": "cond", "type": "nominal", "legend": null}}},
        {"data": {"name": "alpha_box"}, "mark": {"type": "tick", "orient": "horizontal", "size": 12, "thickness": 1.5},
         "encoding": {"x": {"field": "pos", "type": "quantitative"}, "y": {"field": "lo", "type": "quantitative"}, "color": {"field": "cond", "type": "nominal", "scale": {"domain": ["baseline", "intervention"], "range": ["#7f7f7f", "#4a4ad6"]}, "legend": null}}},
        {"data": {"name": "alpha_box"}, "mark": {"type": "tick", "orient": "horizontal", "size": 12, "thickness": 1.5},
         "encoding": {"x": {"field": "pos", "type": "quantitative"}, "y": {"field": "hi", "type": "quantitative"}, "color": {"field": "cond", "type": "nominal", "legend": null}}},
        {"data": {"name": "alpha_pairs"}, "mark": {"type": "rule", "strokeDash": [4, 3], "strokeWidth": 1, "color": "#1a1a1a", "clip": true},
         "encoding": {"x": {"field": "xb", "type": "quantitative"}, "x2": {"field": "xi"}, "y": {"field": "b", "type": "quantitative"}, "y2": {"field": "i"}}},
        {"data": {"name": "alpha_pairs"}, "mark": {"type": "circle", "size": 42, "opacity": 1, "color": "#808080", "clip": true},
         "encoding": {"x": {"field": "xb", "type": "quantitative"}, "y": {"field": "b", "type": "quantitative"}}},
        {"data": {"name": "alpha_pairs"}, "mark": {"type": "circle", "size": 42, "opacity": 1, "color": "#3f3fd2", "clip": true},
         "encoding": {"x": {"field": "xi", "type": "quantitative"}, "y": {"field": "i", "type": "quantitative"}}},
        {"data": {"name": "alpha_box"}, "mark": {"type": "tick", "orient": "horizontal", "size": 26, "thickness": 2, "color": "#1b1b2f"},
         "encoding": {"x": {"field": "pos", "type": "quantitative"}, "y": {"field": "med", "type": "quantitative"}}},
        {"data": {"name": "alpha_box"}, "mark": {"type": "tick", "orient": "horizontal", "size": 26, "thickness": 2, "color": "#ff0000"},
         "encoding": {"x": {"field": "pos", "type": "quantitative"}, "y": {"field": "mean", "type": "quantitative"}}},
        {"data": {"name": "alpha_box"}, "mark": {"type": "line", "color": "#ff0000", "strokeWidth": 1.2},
         "encoding": {"x": {"field": "pos", "type": "quantitative"}, "y": {"field": "mean", "type": "quantitative"}, "detail": {"field": "grp", "type": "nominal"}}}
        ]},
        {"data": {"name": "alpha_box"}, "mark": {"type": "point", "opacity": 0},
         "encoding": {"x": {"field": "pos", "type": "quantitative", "axis": {"orient": "top", "labels": false, "title": null, "values": [1, 2, 4, 5]}},
                      "y": {"field": "mean", "type": "quantitative", "axis": {"orient": "right", "labels": false, "title": null, "values": [0, 2, 4, 6, 8, 10, 12], "tickCount": 30}}}}
      ]
    },
    {
      "width": 315, "height": 248,
      "resolve": {"axis": {"x": "independent", "y": "independent"}},
      "layer": [
        {"layer": [
        {"data": {"name": "lupe_box"}, "mark": {"type": "bar", "width": 26, "strokeWidth": 1},
         "encoding": {
           "x": {"field": "pos", "type": "quantitative", "scale": {"domain": [0, 6], "nice": false, "zero": false},
                 "axis": {"title": null, "values": [1, 1.5, 2, 4, 4.5, 5], "tickOpacity": {"condition": {"test": "datum.value == 1.5 || datum.value == 4.5", "value": 0}, "value": 1},
                          "labelExpr": "datum.value == 1 ? 'Baseline' : datum.value == 4 ? 'Baseline*' : datum.value == 2 || datum.value == 5 ? 'Intervention' : datum.value == 1.5 ? ['', 'Meditation'] : ['', 'Breathwork']"}},
           "y": {"field": "q1", "type": "quantitative", "scale": {"domain": [-0.5, 0.5], "nice": false, "zero": false},
                 "axis": {"title": "Left UPE [cnt/s/cm²]", "values": [-0.5, -0.4, -0.3, -0.2, -0.1, 0, 0.1, 0.2, 0.3, 0.4, 0.5], "tickCount": 30, "format": "~r", "labelExpr": "replace(datum.label, '−', '-')"}},
           "y2": {"field": "q3"},
           "fill": {"field": "cond", "type": "nominal", "scale": {"domain": ["baseline", "intervention"], "range": ["#bdbdbd", "#a9a9ec"]}, "legend": null},
           "stroke": {"field": "cond", "type": "nominal", "scale": {"domain": ["baseline", "intervention"], "range": ["#7f7f7f", "#4a4ad6"]}, "legend": null}
         }},
        {"data": {"name": "lupe_box"}, "mark": {"type": "rule", "strokeWidth": 1.5},
         "encoding": {"x": {"field": "pos", "type": "quantitative"}, "y": {"field": "lo", "type": "quantitative"}, "y2": {"field": "q1"}, "stroke": {"field": "cond", "type": "nominal", "legend": null}}},
        {"data": {"name": "lupe_box"}, "mark": {"type": "rule", "strokeWidth": 1.5},
         "encoding": {"x": {"field": "pos", "type": "quantitative"}, "y": {"field": "q3", "type": "quantitative"}, "y2": {"field": "hi"}, "stroke": {"field": "cond", "type": "nominal", "legend": null}}},
        {"data": {"name": "lupe_box"}, "mark": {"type": "tick", "orient": "horizontal", "size": 12, "thickness": 1.5},
         "encoding": {"x": {"field": "pos", "type": "quantitative"}, "y": {"field": "lo", "type": "quantitative"}, "color": {"field": "cond", "type": "nominal", "scale": {"domain": ["baseline", "intervention"], "range": ["#7f7f7f", "#4a4ad6"]}, "legend": null}}},
        {"data": {"name": "lupe_box"}, "mark": {"type": "tick", "orient": "horizontal", "size": 12, "thickness": 1.5},
         "encoding": {"x": {"field": "pos", "type": "quantitative"}, "y": {"field": "hi", "type": "quantitative"}, "color": {"field": "cond", "type": "nominal", "legend": null}}},
        {"data": {"name": "lupe_pairs"}, "mark": {"type": "rule", "strokeDash": [4, 3], "strokeWidth": 1, "color": "#1a1a1a", "clip": true},
         "encoding": {"x": {"field": "xb", "type": "quantitative"}, "x2": {"field": "xi"}, "y": {"field": "b", "type": "quantitative"}, "y2": {"field": "i"}}},
        {"data": {"name": "lupe_pairs"}, "mark": {"type": "circle", "size": 42, "opacity": 1, "color": "#808080", "clip": true},
         "encoding": {"x": {"field": "xb", "type": "quantitative"}, "y": {"field": "b", "type": "quantitative"}}},
        {"data": {"name": "lupe_pairs"}, "mark": {"type": "circle", "size": 42, "opacity": 1, "color": "#3f3fd2", "clip": true},
         "encoding": {"x": {"field": "xi", "type": "quantitative"}, "y": {"field": "i", "type": "quantitative"}}},
        {"data": {"name": "lupe_box"}, "mark": {"type": "tick", "orient": "horizontal", "size": 26, "thickness": 2, "color": "#1b1b2f"},
         "encoding": {"x": {"field": "pos", "type": "quantitative"}, "y": {"field": "med", "type": "quantitative"}}},
        {"data": {"name": "lupe_box"}, "mark": {"type": "tick", "orient": "horizontal", "size": 26, "thickness": 2, "color": "#ff0000"},
         "encoding": {"x": {"field": "pos", "type": "quantitative"}, "y": {"field": "mean", "type": "quantitative"}}},
        {"data": {"name": "lupe_box"}, "mark": {"type": "line", "color": "#ff0000", "strokeWidth": 1.2},
         "encoding": {"x": {"field": "pos", "type": "quantitative"}, "y": {"field": "mean", "type": "quantitative"}, "detail": {"field": "grp", "type": "nominal"}}}
        ]},
        {"data": {"name": "lupe_box"}, "mark": {"type": "point", "opacity": 0},
         "encoding": {"x": {"field": "pos", "type": "quantitative", "axis": {"orient": "top", "labels": false, "title": null, "values": [1, 2, 4, 5]}},
                      "y": {"field": "mean", "type": "quantitative", "axis": {"orient": "right", "labels": false, "title": null, "values": [-0.5, -0.4, -0.3, -0.2, -0.1, 0, 0.1, 0.2, 0.3, 0.4, 0.5], "tickCount": 30}}}}
      ]
    },
    {
      "width": 315, "height": 248,
      "resolve": {"axis": {"x": "independent", "y": "independent"}},
      "layer": [
        {"layer": [
        {"data": {"name": "rupe_box"}, "mark": {"type": "bar", "width": 26, "strokeWidth": 1},
         "encoding": {
           "x": {"field": "pos", "type": "quantitative", "scale": {"domain": [0, 6], "nice": false, "zero": false},
                 "axis": {"title": null, "values": [1, 1.5, 2, 4, 4.5, 5], "tickOpacity": {"condition": {"test": "datum.value == 1.5 || datum.value == 4.5", "value": 0}, "value": 1},
                          "labelExpr": "datum.value == 1 ? 'Baseline' : datum.value == 4 ? 'Baseline*' : datum.value == 2 || datum.value == 5 ? 'Intervention' : datum.value == 1.5 ? ['', 'Meditation'] : ['', 'Breathwork']"}},
           "y": {"field": "q1", "type": "quantitative", "scale": {"domain": [-0.5, 0.5], "nice": false, "zero": false},
                 "axis": {"title": "Right UPE [cnt/s/cm²]", "values": [-0.5, -0.4, -0.3, -0.2, -0.1, 0, 0.1, 0.2, 0.3, 0.4, 0.5], "tickCount": 30, "format": "~r", "labelExpr": "replace(datum.label, '−', '-')"}},
           "y2": {"field": "q3"},
           "fill": {"field": "cond", "type": "nominal", "scale": {"domain": ["baseline", "intervention"], "range": ["#bdbdbd", "#a9a9ec"]}, "legend": null},
           "stroke": {"field": "cond", "type": "nominal", "scale": {"domain": ["baseline", "intervention"], "range": ["#7f7f7f", "#4a4ad6"]}, "legend": null}
         }},
        {"data": {"name": "rupe_box"}, "mark": {"type": "rule", "strokeWidth": 1.5},
         "encoding": {"x": {"field": "pos", "type": "quantitative"}, "y": {"field": "lo", "type": "quantitative"}, "y2": {"field": "q1"}, "stroke": {"field": "cond", "type": "nominal", "legend": null}}},
        {"data": {"name": "rupe_box"}, "mark": {"type": "rule", "strokeWidth": 1.5},
         "encoding": {"x": {"field": "pos", "type": "quantitative"}, "y": {"field": "q3", "type": "quantitative"}, "y2": {"field": "hi"}, "stroke": {"field": "cond", "type": "nominal", "legend": null}}},
        {"data": {"name": "rupe_box"}, "mark": {"type": "tick", "orient": "horizontal", "size": 12, "thickness": 1.5},
         "encoding": {"x": {"field": "pos", "type": "quantitative"}, "y": {"field": "lo", "type": "quantitative"}, "color": {"field": "cond", "type": "nominal", "scale": {"domain": ["baseline", "intervention"], "range": ["#7f7f7f", "#4a4ad6"]}, "legend": null}}},
        {"data": {"name": "rupe_box"}, "mark": {"type": "tick", "orient": "horizontal", "size": 12, "thickness": 1.5},
         "encoding": {"x": {"field": "pos", "type": "quantitative"}, "y": {"field": "hi", "type": "quantitative"}, "color": {"field": "cond", "type": "nominal", "legend": null}}},
        {"data": {"name": "rupe_pairs"}, "mark": {"type": "rule", "strokeDash": [4, 3], "strokeWidth": 1, "color": "#1a1a1a", "clip": true},
         "encoding": {"x": {"field": "xb", "type": "quantitative"}, "x2": {"field": "xi"}, "y": {"field": "b", "type": "quantitative"}, "y2": {"field": "i"}}},
        {"data": {"name": "rupe_pairs"}, "mark": {"type": "circle", "size": 42, "opacity": 1, "color": "#808080", "clip": true},
         "encoding": {"x": {"field": "xb", "type": "quantitative"}, "y": {"field": "b", "type": "quantitative"}}},
        {"data": {"name": "rupe_pairs"}, "mark": {"type": "circle", "size": 42, "opacity": 1, "color": "#3f3fd2", "clip": true},
         "encoding": {"x": {"field": "xi", "type": "quantitative"}, "y": {"field": "i", "type": "quantitative"}}},
        {"data": {"name": "rupe_box"}, "mark": {"type": "tick", "orient": "horizontal", "size": 26, "thickness": 2, "color": "#1b1b2f"},
         "encoding": {"x": {"field": "pos", "type": "quantitative"}, "y": {"field": "med", "type": "quantitative"}}},
        {"data": {"name": "rupe_box"}, "mark": {"type": "tick", "orient": "horizontal", "size": 26, "thickness": 2, "color": "#ff0000"},
         "encoding": {"x": {"field": "pos", "type": "quantitative"}, "y": {"field": "mean", "type": "quantitative"}}},
        {"data": {"name": "rupe_box"}, "mark": {"type": "line", "color": "#ff0000", "strokeWidth": 1.2},
         "encoding": {"x": {"field": "pos", "type": "quantitative"}, "y": {"field": "mean", "type": "quantitative"}, "detail": {"field": "grp", "type": "nominal"}}}
        ]},
        {"data": {"name": "rupe_box"}, "mark": {"type": "point", "opacity": 0},
         "encoding": {"x": {"field": "pos", "type": "quantitative", "axis": {"orient": "top", "labels": false, "title": null, "values": [1, 2, 4, 5]}},
                      "y": {"field": "mean", "type": "quantitative", "axis": {"orient": "right", "labels": false, "title": null, "values": [-0.5, -0.4, -0.3, -0.2, -0.1, 0, 0.1, 0.2, 0.3, 0.4, 0.5], "tickCount": 30}}}}
      ]
    },
    {
      "width": 315, "height": 248,
      "resolve": {"axis": {"x": "independent", "y": "independent"}},
      "layer": [
        {"layer": [
        {"data": {"name": "ir_box"}, "mark": {"type": "bar", "width": 26, "strokeWidth": 1},
         "encoding": {
           "x": {"field": "pos", "type": "quantitative", "scale": {"domain": [0, 6], "nice": false, "zero": false},
                 "axis": {"title": null, "values": [1, 1.5, 2, 4, 4.5, 5], "tickOpacity": {"condition": {"test": "datum.value == 1.5 || datum.value == 4.5", "value": 0}, "value": 1},
                          "labelExpr": "datum.value == 1 ? 'Baseline' : datum.value == 4 ? 'Baseline*' : datum.value == 2 || datum.value == 5 ? 'Intervention' : datum.value == 1.5 ? ['', 'Meditation'] : ['', 'Breathwork']"}},
           "y": {"field": "q1", "type": "quantitative", "scale": {"domain": [23.2, 37.6], "nice": false, "zero": false},
                 "axis": {"title": "IR Nose [°C]", "values": [24, 26, 28, 30, 32, 34, 36], "tickCount": 30, "format": "~r"}},
           "y2": {"field": "q3"},
           "fill": {"field": "cond", "type": "nominal", "scale": {"domain": ["baseline", "intervention"], "range": ["#bdbdbd", "#a9a9ec"]}, "legend": null},
           "stroke": {"field": "cond", "type": "nominal", "scale": {"domain": ["baseline", "intervention"], "range": ["#7f7f7f", "#4a4ad6"]}, "legend": null}
         }},
        {"data": {"name": "ir_box"}, "mark": {"type": "rule", "strokeWidth": 1.5},
         "encoding": {"x": {"field": "pos", "type": "quantitative"}, "y": {"field": "lo", "type": "quantitative"}, "y2": {"field": "q1"}, "stroke": {"field": "cond", "type": "nominal", "legend": null}}},
        {"data": {"name": "ir_box"}, "mark": {"type": "rule", "strokeWidth": 1.5},
         "encoding": {"x": {"field": "pos", "type": "quantitative"}, "y": {"field": "q3", "type": "quantitative"}, "y2": {"field": "hi"}, "stroke": {"field": "cond", "type": "nominal", "legend": null}}},
        {"data": {"name": "ir_box"}, "mark": {"type": "tick", "orient": "horizontal", "size": 12, "thickness": 1.5},
         "encoding": {"x": {"field": "pos", "type": "quantitative"}, "y": {"field": "lo", "type": "quantitative"}, "color": {"field": "cond", "type": "nominal", "scale": {"domain": ["baseline", "intervention"], "range": ["#7f7f7f", "#4a4ad6"]}, "legend": null}}},
        {"data": {"name": "ir_box"}, "mark": {"type": "tick", "orient": "horizontal", "size": 12, "thickness": 1.5},
         "encoding": {"x": {"field": "pos", "type": "quantitative"}, "y": {"field": "hi", "type": "quantitative"}, "color": {"field": "cond", "type": "nominal", "legend": null}}},
        {"data": {"name": "ir_pairs"}, "mark": {"type": "rule", "strokeDash": [4, 3], "strokeWidth": 1, "color": "#1a1a1a", "clip": true},
         "encoding": {"x": {"field": "xb", "type": "quantitative"}, "x2": {"field": "xi"}, "y": {"field": "b", "type": "quantitative"}, "y2": {"field": "i"}}},
        {"data": {"name": "ir_pairs"}, "mark": {"type": "circle", "size": 42, "opacity": 1, "color": "#808080", "clip": true},
         "encoding": {"x": {"field": "xb", "type": "quantitative"}, "y": {"field": "b", "type": "quantitative"}}},
        {"data": {"name": "ir_pairs"}, "mark": {"type": "circle", "size": 42, "opacity": 1, "color": "#3f3fd2", "clip": true},
         "encoding": {"x": {"field": "xi", "type": "quantitative"}, "y": {"field": "i", "type": "quantitative"}}},
        {"data": {"name": "ir_box"}, "mark": {"type": "tick", "orient": "horizontal", "size": 26, "thickness": 2, "color": "#1b1b2f"},
         "encoding": {"x": {"field": "pos", "type": "quantitative"}, "y": {"field": "med", "type": "quantitative"}}},
        {"data": {"name": "ir_box"}, "mark": {"type": "tick", "orient": "horizontal", "size": 26, "thickness": 2, "color": "#ff0000"},
         "encoding": {"x": {"field": "pos", "type": "quantitative"}, "y": {"field": "mean", "type": "quantitative"}}},
        {"data": {"name": "ir_box"}, "mark": {"type": "line", "color": "#ff0000", "strokeWidth": 1.2},
         "encoding": {"x": {"field": "pos", "type": "quantitative"}, "y": {"field": "mean", "type": "quantitative"}, "detail": {"field": "grp", "type": "nominal"}}}
        ]},
        {"data": {"name": "ir_box"}, "mark": {"type": "point", "opacity": 0},
         "encoding": {"x": {"field": "pos", "type": "quantitative", "axis": {"orient": "top", "labels": false, "title": null, "values": [1, 2, 4, 5]}},
                      "y": {"field": "mean", "type": "quantitative", "axis": {"orient": "right", "labels": false, "title": null, "values": [24, 26, 28, 30, 32, 34, 36], "tickCount": 30}}}}
      ]
    }
  ]
}
